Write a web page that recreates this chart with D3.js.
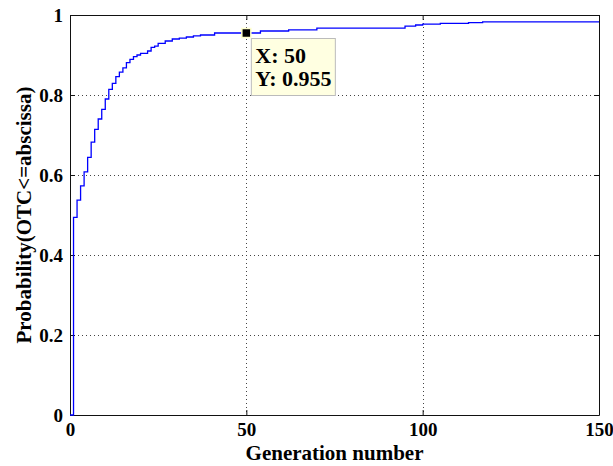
<!DOCTYPE html>
<html>
<head>
<meta charset="utf-8">
<script src="https://cdn.jsdelivr.net/npm/d3@7"></script>
</head>
<body style="margin:0;background:#fff">
<div id="wrapper"></div>
<script>
// data: empirical CDF steps (generation, probability)
const generations = [1, 2, 3, 4, 5, 6, 7, 8, 9, 10, 11, 12, 13, 14, 15, 16, 17, 18, 19, 20,
    22, 23, 24, 25, 27, 29, 31, 33, 35, 37, 41, 54, 62, 70, 95, 98, 100, 105, 113, 117]
const probabilities = [0.494, 0.537, 0.573, 0.608, 0.644, 0.682, 0.714, 0.74, 0.764, 0.79,
    0.814, 0.829, 0.846, 0.857, 0.868, 0.881, 0.889, 0.896, 0.9, 0.904,
    0.91, 0.919, 0.922, 0.929, 0.935, 0.94, 0.942, 0.945, 0.948, 0.95,
    0.955, 0.96, 0.963, 0.967, 0.972, 0.975, 0.977, 0.979, 0.981, 0.983]
const xTicks = [0, 50, 100, 150]
const yTicks = [0, 0.2, 0.4, 0.6, 0.8, 1]
const tipPoint = { x: 50, y: 0.955 }

const dataset = [{ x: 0, y: 0 }].concat(generations.map((g, i) => ({ x: g, y: probabilities[i] })))
dataset.push({ x: 150, y: probabilities[probabilities.length - 1] })

const FONT = "Liberation Serif"

// chart dimensions
let dimensions = {
    width: 613,
    height: 466,
    margin: { top: 15, right: 14, bottom: 51, left: 70 }
}
dimensions.boundedWidth = dimensions.width - dimensions.margin.left - dimensions.margin.right
dimensions.boundedHeight = dimensions.height - dimensions.margin.top - dimensions.margin.bottom

const wrapper = d3.select("#wrapper")
    .append("svg")
    .attr("width", dimensions.width)
    .attr("height", dimensions.height)

const bounds = wrapper.append("g")
    .attr("transform", `translate(${dimensions.margin.left},${dimensions.margin.top})`)

// scales
const xScale = d3.scaleLinear()
    .domain([0, 150])
    .range([0, dimensions.boundedWidth])

const yScale = d3.scaleLinear()
    .domain([0, 1])
    .range([dimensions.boundedHeight, 0])

// grid
const grid = bounds.append("g")
    .attr("stroke", "#444")
    .attr("stroke-width", 1)
    .attr("stroke-dasharray", "1,3")
grid.selectAll(".vgrid")
    .data(xTicks.slice(1, -1))
    .enter().append("line")
    .attr("x1", d => Math.round(xScale(d)) + 0.5)
    .attr("x2", d => Math.round(xScale(d)) + 0.5)
    .attr("y1", 0)
    .attr("y2", dimensions.boundedHeight)
grid.selectAll(".hgrid")
    .data(yTicks.slice(1))
    .enter().append("line")
    .attr("x1", 0)
    .attr("x2", dimensions.boundedWidth)
    .attr("y1", d => Math.round(yScale(d)) + 0.5)
    .attr("y2", d => Math.round(yScale(d)) + 0.5)

// axes with inward ticks
const xAxis = bounds.append("g")
    .attr("transform", `translate(0,${dimensions.boundedHeight})`)
    .call(d3.axisBottom(xScale).tickValues(xTicks).tickSizeInner(-5).tickSizeOuter(0).tickPadding(8))
const xAxisTop = bounds.append("g")
    .call(d3.axisTop(xScale).tickValues(xTicks).tickSizeInner(-5).tickSizeOuter(0).tickFormat(""))
const yAxis = bounds.append("g")
    .call(d3.axisLeft(yScale).tickValues(yTicks).tickSizeInner(-5).tickSizeOuter(0).tickPadding(7)
        .tickFormat(d => d === 0 || d === 1 ? d3.format("d")(d) : d3.format(".1f")(d)))
const yAxisRight = bounds.append("g")
    .attr("transform", `translate(${dimensions.boundedWidth},0)`)
    .call(d3.axisRight(yScale).tickValues(yTicks).tickSizeInner(-5).tickSizeOuter(0).tickFormat(""))

bounds.selectAll(".domain, .tick line").attr("stroke", "#111")
bounds.selectAll(".tick text")
    .attr("fill", "#000")
    .attr("font-family", FONT)
    .style("font-family", FONT)
    .style("font-weight", "bold")
    .style("font-size", "19px")

// data line
const lineGenerator = d3.line()
    .x(d => xScale(d.x))
    .y(d => yScale(d.y))
    .curve(d3.curveStepAfter)

bounds.append("path")
    .datum(dataset)
    .attr("fill", "none")
    .attr("stroke", "#0000ff")
    .attr("stroke-width", 1.3)
    .attr("d", lineGenerator)

// labels
wrapper.append("text")
    .attr("x", dimensions.margin.left + dimensions.boundedWidth / 2)
    .attr("y", 460)
    .attr("text-anchor", "middle")
    .style("font-family", FONT)
    .style("font-weight", "bold")
    .style("font-size", "21px")
    .text("Generation number")

wrapper.append("text")
    .attr("transform", `translate(31,${dimensions.margin.top + dimensions.boundedHeight / 2}) rotate(-90)`)
    .attr("text-anchor", "middle")
    .style("font-family", FONT)
    .style("font-weight", "bold")
    .style("font-size", "21px")
    .text("Probability(OTC<=abscissa)")

// data tip
const tx = xScale(tipPoint.x)
const ty = yScale(tipPoint.y)
const tip = bounds.append("g")
tip.append("rect")
    .attr("x", tx + 5)
    .attr("y", ty + 5.5)
    .attr("width", 84)
    .attr("height", 57)
    .attr("fill", "#ffffe1")
    .attr("stroke", "#bbb")
tip.append("rect")
    .attr("x", tx - 4.5)
    .attr("y", ty - 4.5)
    .attr("width", 9)
    .attr("height", 9)
    .attr("fill", "#000")
    .attr("stroke", "#ffffcc")
    .attr("stroke-width", 1.5)
tip.selectAll(".tiptext")
    .data([`X: ${tipPoint.x}`, `Y: ${tipPoint.y}`])
    .enter().append("text")
    .attr("x", tx + 9)
    .attr("y", (d, i) => ty + 30 + i * 23)
    .style("font-family", FONT)
    .style("font-weight", "bold")
    .style("font-size", "22px")
    .text(d => d)
</script>
</body>
</html>
